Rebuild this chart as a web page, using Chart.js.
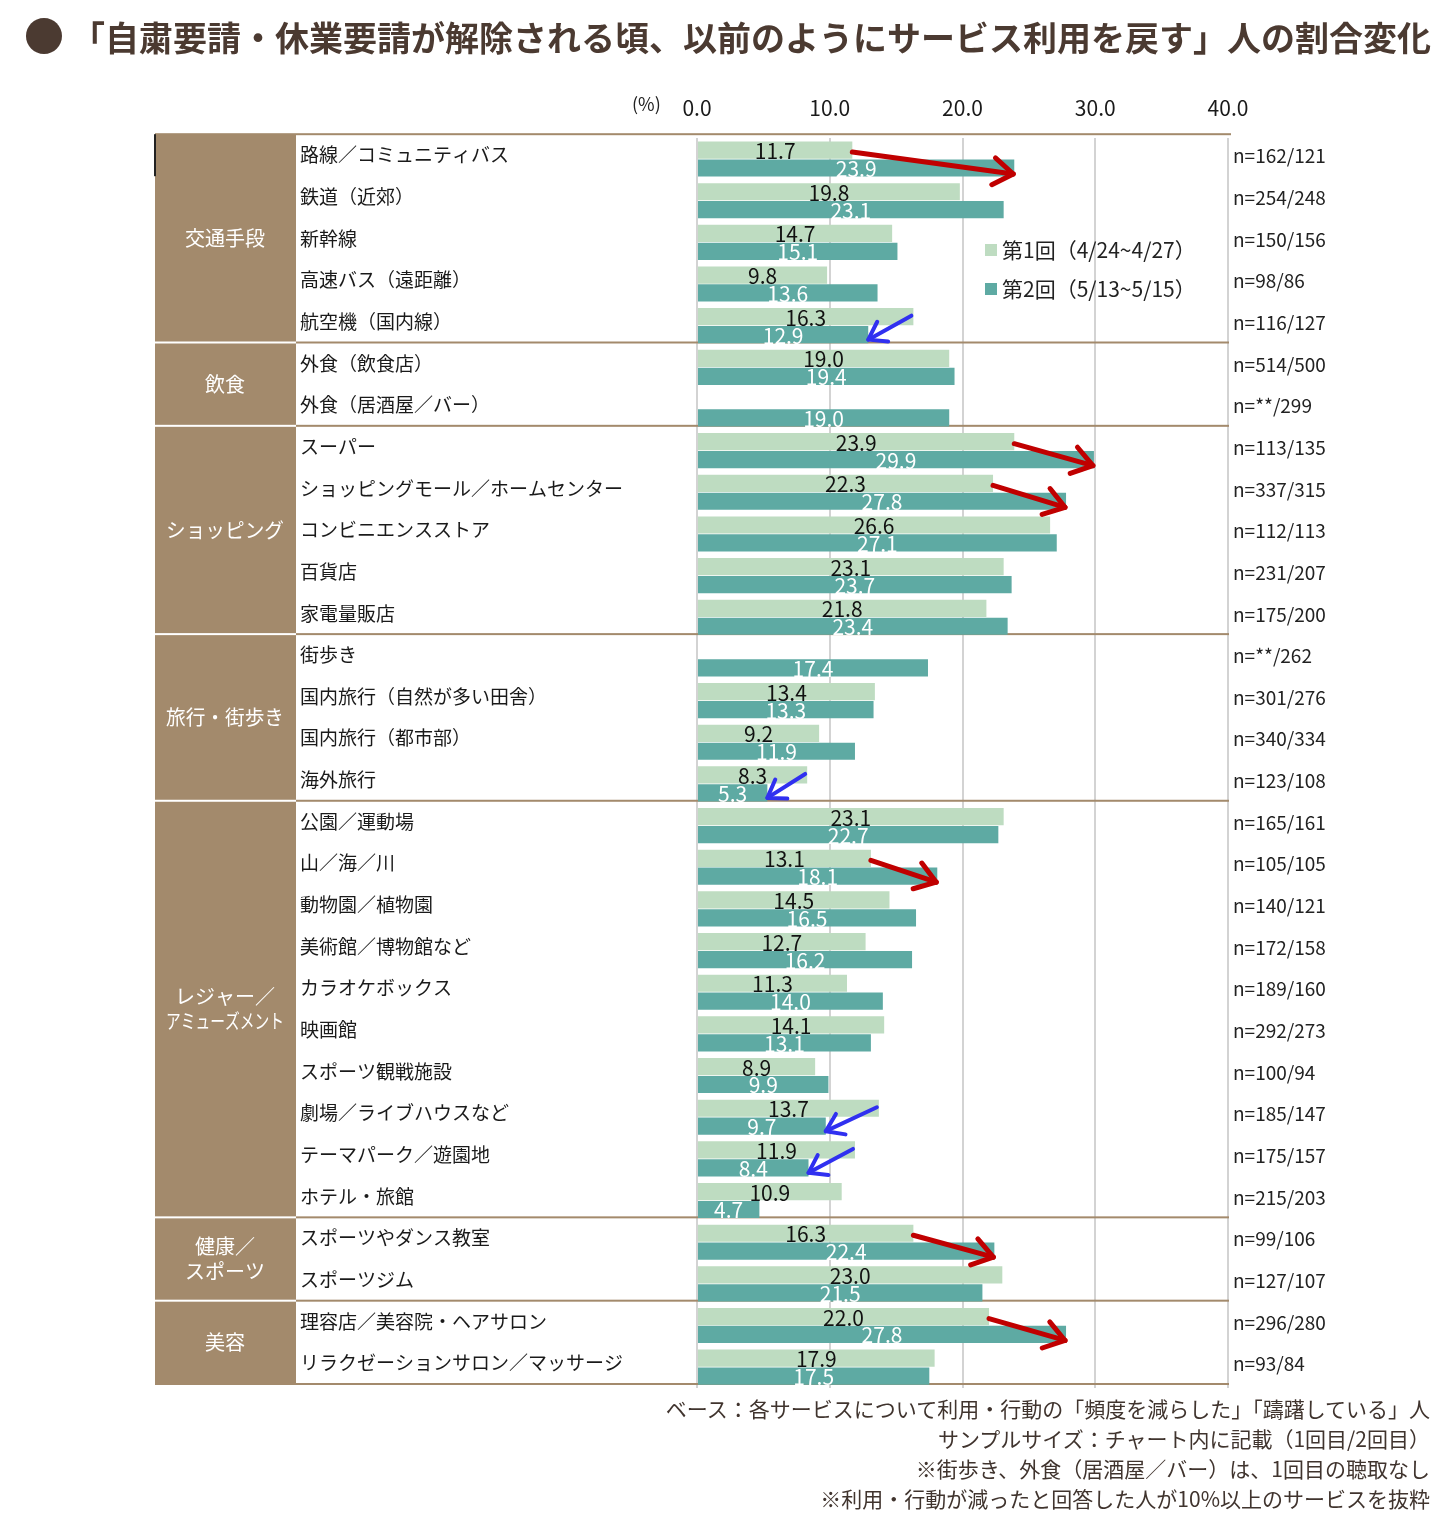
<!DOCTYPE html>
<html lang="ja">
<head>
<meta charset="utf-8">
<script src="https://cdn.jsdelivr.net/npm/chart.js@4.4.0/dist/chart.umd.min.js"></script>
<style>
html,body{margin:0;padding:0;background:#fff;}
#wrap{position:relative;width:1454px;height:1528px;overflow:hidden;}
#c{position:absolute;left:0;top:0;}
.jp{font-family:"Noto Sans CJK JP","Noto Sans",sans-serif;}
#dot{position:absolute;left:24px;top:14px;font-size:40px;line-height:40px;color:#4b3a31;}
#title{position:absolute;left:71px;top:19px;font-size:34px;line-height:36px;font-weight:700;color:#4b3a31;white-space:nowrap;}
#notes{position:absolute;right:24px;top:1393px;text-align:right;font-size:21px;line-height:30px;color:#40342e;white-space:nowrap;}
</style>
</head>
<body>
<div id="wrap">
  <canvas id="c" width="1454" height="1528"></canvas>
  <div id="dot" class="jp">●</div>
  <div id="title" class="jp">「自粛要請・休業要請が解除される頃、以前のようにサービス利用を戻す」人の割合変化</div>
  <div id="notes" class="jp">
    <div>ベース：各サービスについて利用・行動の「頻度を減らした」「躊躇している」人</div>
    <div>サンプルサイズ：チャート内に記載（1回目/2回目）</div>
    <div>※街歩き、外食（居酒屋／バー）は、1回目の聴取なし</div>
    <div>※利用・行動が減ったと回答した人が10%以上のサービスを抜粋</div>
  </div>
</div>
<script>
// ---------------- data ----------------
const categories = [
  '路線／コミュニティバス','鉄道（近郊）','新幹線','高速バス（遠距離）','航空機（国内線）',
  '外食（飲食店）','外食（居酒屋／バー）',
  'スーパー','ショッピングモール／ホームセンター','コンビニエンスストア','百貨店','家電量販店',
  '街歩き','国内旅行（自然が多い田舎）','国内旅行（都市部）','海外旅行',
  '公園／運動場','山／海／川','動物園／植物園','美術館／博物館など','カラオケボックス','映画館',
  'スポーツ観戦施設','劇場／ライブハウスなど','テーマパーク／遊園地','ホテル・旅館',
  'スポーツやダンス教室','スポーツジム',
  '理容店／美容院・ヘアサロン','リラクゼーションサロン／マッサージ'
];
const groupNames = ['交通手段','飲食','ショッピング','旅行・街歩き','レジャー／\nアミューズメント','健康／\nスポーツ','美容'];
const groupSizes = [5,2,5,4,10,2,2];
const round1 = [11.7,19.8,14.7,9.8,16.3, 19.0,null, 23.9,22.3,26.6,23.1,21.8, null,13.4,9.2,8.3,
  23.1,13.1,14.5,12.7,11.3,14.1,8.9,13.7,11.9,10.9, 16.3,23.0, 22.0,17.9];
const round2 = [23.9,23.1,15.1,13.6,12.9, 19.4,19.0, 29.9,27.8,27.1,23.7,23.4, 17.4,13.3,11.9,5.3,
  22.7,18.1,16.5,16.2,14.0,13.1,9.9,9.7,8.4,4.7, 22.4,21.5, 27.8,17.5];
const sampleSizes = ['n=162/121','n=254/248','n=150/156','n=98/86','n=116/127',
  'n=514/500','n=**/299',
  'n=113/135','n=337/315','n=112/113','n=231/207','n=175/200',
  'n=**/262','n=301/276','n=340/334','n=123/108',
  'n=165/161','n=105/105','n=140/121','n=172/158','n=189/160','n=292/273','n=100/94','n=185/147','n=175/157','n=215/203',
  'n=99/106','n=127/107',
  'n=296/280','n=93/84'];
const seriesNames = ['第1回（4/24~4/27）','第2回（5/13~5/15）'];
const xTickValues = [0,10,20,30,40];
const upArrowRows = [0,7,8,17,26,28];
const downArrowRows = [4,15,23,24];
const unitLabel = '(%)';

// ---------------- style ----------------
const FONT = '"Noto Sans CJK JP","Noto Sans",sans-serif';
const TAN = '#a38a6c';
const LIGHT = '#bedcc1';
const DARK = '#5eaaa3';

function drawArrow(ctx, x0, y0, x1, y1, color, lw, head){
  const ang = Math.atan2(y1-y0, x1-x0);
  ctx.save();
  ctx.strokeStyle = color; ctx.lineWidth = lw; ctx.lineCap = 'round'; ctx.lineJoin = 'round';
  ctx.beginPath(); ctx.moveTo(x0,y0); ctx.lineTo(x1,y1); ctx.stroke();
  ctx.beginPath();
  ctx.moveTo(x1 - head*Math.cos(ang-0.6), y1 - head*Math.sin(ang-0.6));
  ctx.lineTo(x1,y1);
  ctx.lineTo(x1 - head*Math.cos(ang+0.6), y1 - head*Math.sin(ang+0.6));
  ctx.stroke();
  ctx.restore();
}

const tablePlugin = {
  id:'table',
  beforeDatasetsDraw(chart){
    const {ctx, scales:{x,y}} = chart;
    const rowH = y.getPixelForValue(1) - y.getPixelForValue(0);
    const shift = -4;
    const rowTop = i => y.getPixelForValue(i) - rowH/2 + shift;
    const top = rowTop(0), bottom = rowTop(categories.length);
    const right = x.getPixelForValue(40) + 1;
    ctx.save();
    ctx.fillStyle = TAN;
    ctx.fillRect(155, top, 141, bottom-top);
    let start = 0;
    groupNames.forEach((g,gi)=>{
      const end = start + groupSizes[gi];
      const y0 = rowTop(start), y1 = rowTop(end);
      ctx.fillStyle = '#fff';
      ctx.font = '20px ' + FONT;
      ctx.textAlign = 'center'; ctx.textBaseline = 'middle';
      const lines = g.split('\n');
      const cy = (y0+y1)/2;
      lines.forEach((ln,li)=>ctx.fillText(ln, 225, cy + (li-(lines.length-1)/2)*25, 118));
      if (end < categories.length){
        ctx.fillStyle = '#fff'; ctx.fillRect(155, y1-1, 141, 2);
        ctx.fillStyle = TAN; ctx.fillRect(296, y1-1, right-296, 2);
      }
      start = end;
    });
    ctx.fillStyle = TAN;
    ctx.fillRect(155, top-1, right-155+2, 2);
    ctx.fillRect(155, bottom-1, right-155, 2);
    ctx.fillStyle = '#222';
    ctx.fillRect(154, top, 2, 42);
    // sample sizes
    ctx.fillStyle = '#222'; ctx.font = '19px ' + FONT;
    ctx.textAlign = 'left'; ctx.textBaseline = 'middle';
    sampleSizes.forEach((s,i)=>ctx.fillText(s, 1233, y.getPixelForValue(i) + shift + 1));
    // unit label
    ctx.font = '18px ' + FONT; ctx.fillStyle = '#222';
    ctx.fillText(unitLabel, 632, 104);
    // legend
    const ds = chart.data.datasets;
    ds.forEach((d,i)=>{
      const ly = 250 + i*39;
      ctx.fillStyle = d.backgroundColor;
      ctx.fillRect(985, ly-6, 12, 12);
      ctx.fillStyle = '#222'; ctx.font = '21px ' + FONT;
      ctx.fillText(d.label, 1002, ly);
    });
    ctx.restore();
  },
  afterDatasetsDraw(chart){
    const {ctx} = chart;
    const m0 = chart.getDatasetMeta(0), m1 = chart.getDatasetMeta(1);
    ctx.save();
    ctx.font = '21px ' + FONT;
    ctx.textAlign = 'center'; ctx.textBaseline = 'middle';
    [m0,m1].forEach((m,di)=>{
      const vals = di===0 ? round1 : round2;
      m.data.forEach((bar,i)=>{
        if (vals[i]==null) return;
        ctx.fillStyle = di===0 ? '#111' : '#fff';
        ctx.fillText(vals[i].toFixed(1), (bar.base + bar.x)/2, bar.y + 1);
      });
    });
    upArrowRows.forEach(i=>{
      const a = m0.data[i], b = m1.data[i];
      drawArrow(ctx, a.x, a.y + 2, b.x - 1, b.y + 6, '#c00000', 5, 24);
    });
    downArrowRows.forEach(i=>{
      const a = m0.data[i], b = m1.data[i];
      drawArrow(ctx, a.x - 2, a.y - 1, b.x, b.y + 5, '#3030f0', 4, 20);
    });
    ctx.restore();
  }
};

new Chart(document.getElementById('c'), {
  type:'bar',
  data:{
    labels:categories,
    datasets:[
      {label:seriesNames[0], data:round1, backgroundColor:LIGHT},
      {label:seriesNames[1], data:round2, backgroundColor:DARK}
    ]
  },
  options:{
    indexAxis:'y',
    responsive:false,
    animation:false,
    devicePixelRatio:1,
    categoryPercentage:0.86,
    barPercentage:0.96,
    layout:{padding:{left:300, right:226, top:77, bottom:140}},
    plugins:{legend:{display:false}, tooltip:{enabled:false}},
    scales:{
      x:{
        position:'top', min:0, max:40,
        afterBuildTicks(s){ s.ticks = xTickValues.map(v=>({value:v})); },
        ticks:{callback:v=>Number(v).toFixed(1), font:{family:FONT, size:21}, color:'#1a1a1a', padding:18, maxRotation:0},
        grid:{color:'#d3d3d3', lineWidth:2, drawTicks:false},
        border:{display:false}
      },
      y:{
        ticks:{crossAlign:'far', font:{family:FONT, size:19}, color:'#1a1a1a', labelOffset:-4, autoSkip:false, padding:0},
        grid:{display:false},
        border:{display:false},
        afterFit(s){ s.width = 397; }
      }
    }
  },
  plugins:[tablePlugin]
});
</script>
</body>
</html>
